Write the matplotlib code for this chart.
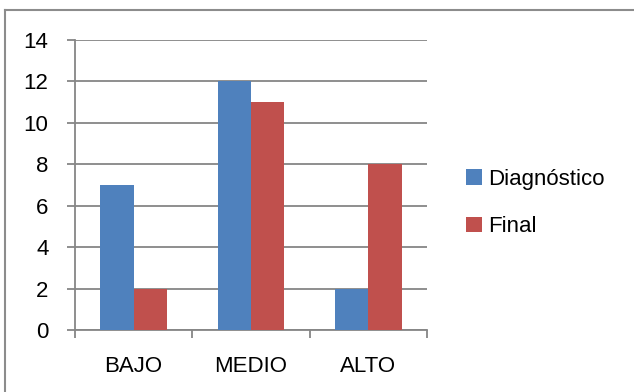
import matplotlib
matplotlib.use("Agg")
import matplotlib.pyplot as plt
from matplotlib.lines import Line2D
import numpy as np

plt.rcParams["font.family"] = ["Liberation Sans", "DejaVu Sans"]

categories = ["BAJO", "MEDIO", "ALTO"]
diagnostico = [7, 12, 2]
final = [2, 11, 8]
series_names = ["Diagnóstico", "Final"]

BLUE = "#4F81BD"
RED = "#C0504D"
GRID = "#868686"
FS = 16

W, H = 634, 392
fig = plt.figure(figsize=(W / 100, H / 100), dpi=100)

# plot area in pixel coordinates of the canvas
left, right, top, bottom = 75, 427, 40, 330
ax = fig.add_axes([left / W, 1 - bottom / H, (right - left) / W, (bottom - top) / H])

x = np.arange(len(categories))
width = 0.285
ax.bar(x - width / 2, diagnostico, width, color=BLUE, label=series_names[0], zorder=3)
ax.bar(x + width / 2, final, width, color=RED, label=series_names[1], zorder=3)

ax.set_xlim(-0.5, len(categories) - 0.5)
ax.set_ylim(0, 14)
ax.set_yticks(range(0, 15, 2))
ax.yaxis.grid(True, color=GRID, linewidth=1.3, zorder=0)
ax.tick_params(axis="y", length=6, width=1.3, color=GRID, pad=13, labelsize=FS)

# category boundaries carry the tick marks, labels sit in the middle
ax.set_xticks(np.arange(-0.5, len(categories), 1.0))
ax.set_xticklabels([])
ax.tick_params(axis="x", which="major", length=6, width=1.3, color=GRID)
ax.set_xticks(x, minor=True)
ax.set_xticklabels(categories, minor=True)
ax.tick_params(axis="x", which="minor", length=0, pad=19, labelsize=FS)

for side in ("top", "right"):
    ax.spines[side].set_visible(False)
for side in ("left", "bottom"):
    ax.spines[side].set_color(GRID)
    ax.spines[side].set_linewidth(1.3)

handles, labels = ax.get_legend_handles_labels()
fig.legend(handles, labels, loc="center left", bbox_to_anchor=(466 / W, 1 - 203 / H),
           frameon=False, fontsize=FS, handlelength=0.7, handleheight=0.7,
           handletextpad=0.3, labelspacing=1.2, borderaxespad=0, borderpad=0)

# chart frame (only top and left edges fall inside the image)
fig.add_artist(Line2D([5 / W, 1], [1 - 10 / H, 1 - 10 / H], color="#8C8C8C", linewidth=1.5))
fig.add_artist(Line2D([5 / W, 5 / W], [0, 1 - 10 / H], color="#8C8C8C", linewidth=1.5))

fig.savefig("out.png", dpi=100)
